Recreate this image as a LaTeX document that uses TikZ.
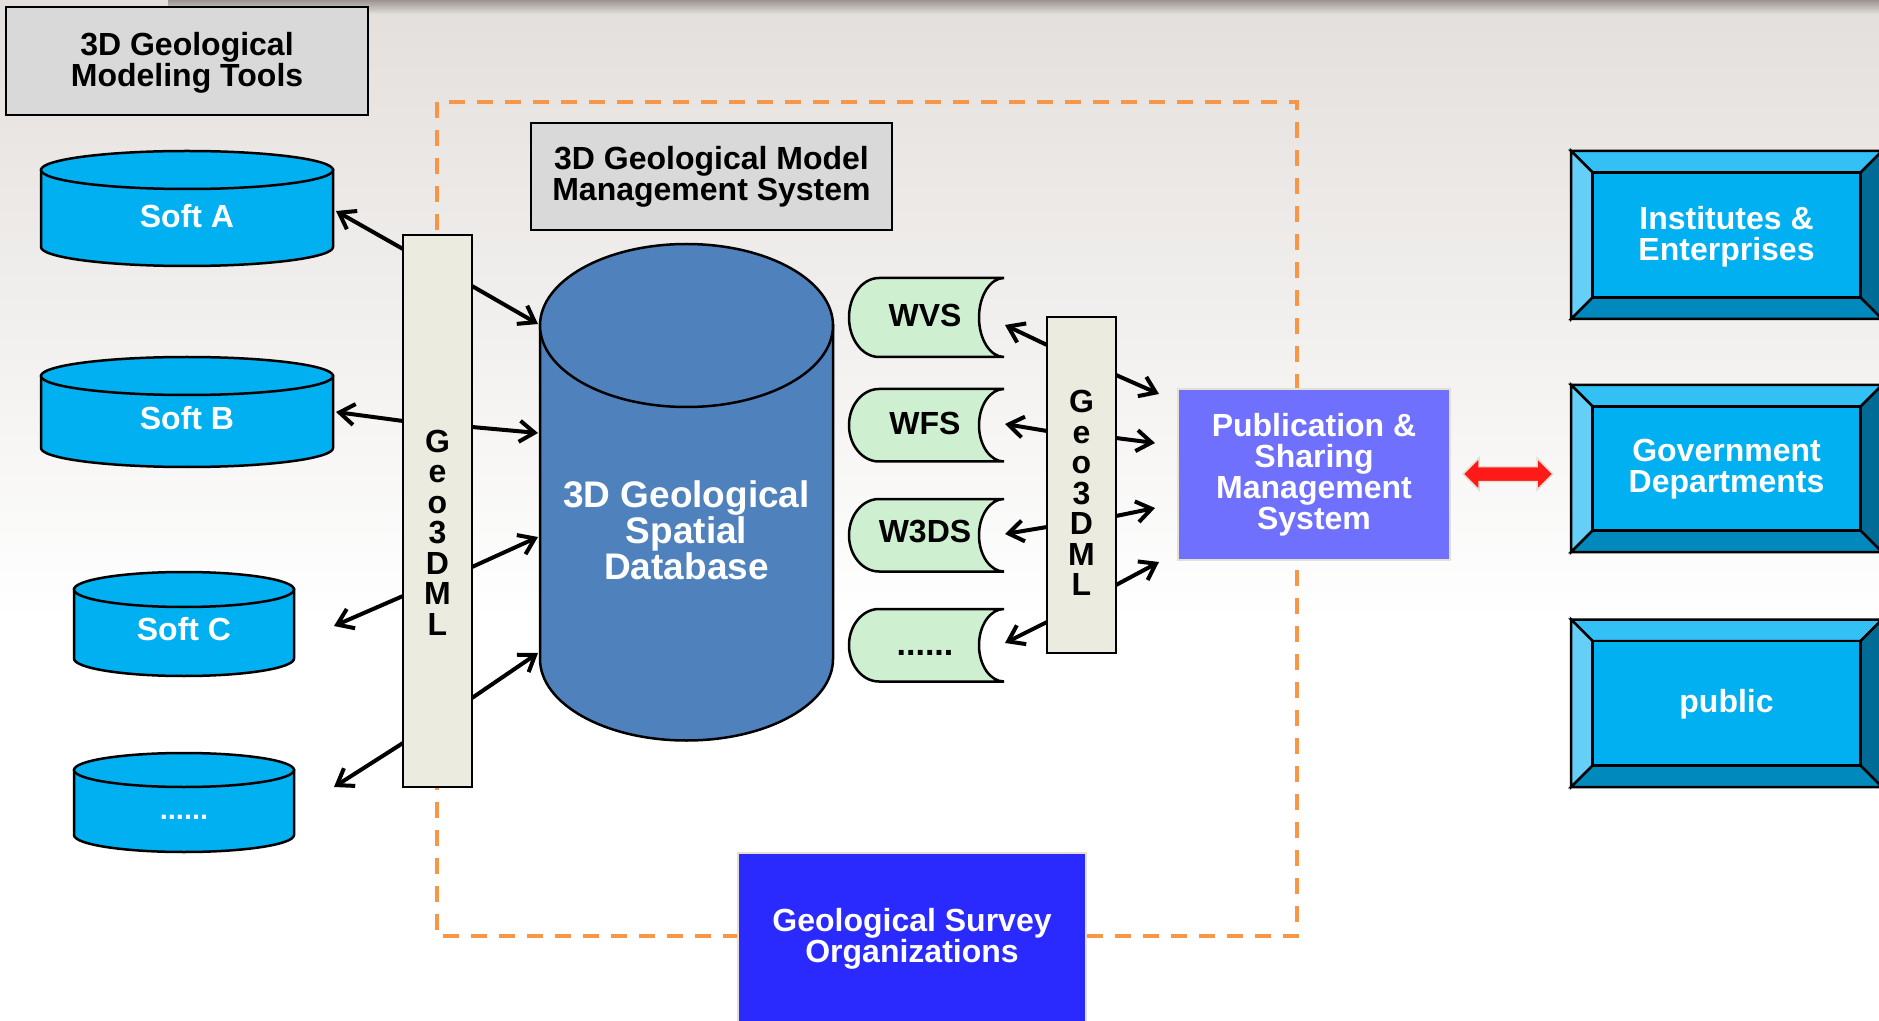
\documentclass[tikz,border=0pt]{standalone}
\usepackage{fontspec}
\setmainfont{Liberation Sans}
\usetikzlibrary{arrows.meta}
\definecolor{bgtop}{HTML}{E3DFDC}
\definecolor{shadowc}{HTML}{9C9490}
\definecolor{boxgray}{HTML}{D9D9D9}
\definecolor{barfill}{HTML}{ECEBE0}
\definecolor{dbblue}{HTML}{4F81BD}
\definecolor{softblue}{HTML}{00B0F0}
\definecolor{tapegreen}{HTML}{CFEFD1}
\definecolor{pubc}{HTML}{7070FF}
\definecolor{surveyc}{HTML}{2A2AFF}
\definecolor{orangec}{HTML}{F79646}
\definecolor{bvtop}{HTML}{33C1F5}
\definecolor{bvleft}{HTML}{66CFF7}
\definecolor{bvbot}{HTML}{0089BC}
\definecolor{bvright}{HTML}{006B94}
\definecolor{bvin}{HTML}{00B0F0}
\definecolor{redc}{HTML}{FF1A1A}
\definecolor{haloc}{HTML}{E6E0D2}
\newcommand\mycyl[6]{%
  \filldraw[fill=#6, draw=black, line width=1.25pt] (#1-#4,#2) -- (#1-#4,#3)
    arc[start angle=180, end angle=0, x radius=#4, y radius=#5] -- (#1+#4,#2) -- cycle;
  \filldraw[fill=#6, draw=black, line width=1.25pt] (#1,#2) ellipse[x radius=#4, y radius=#5];
}
\newcommand\mytape[2]{%
  \filldraw[fill=tapegreen, draw=black, line width=1.25pt] (879,#1) -- (1004,#1)
    arc[start angle=270, end angle=90, x radius=25, y radius={(#2-#1)/2}] -- (879,#2)
    arc[start angle=90, end angle=270, x radius=30, y radius={(#2-#1)/2}] -- cycle;
}
\newcommand\mybevel[2]{%
  \begin{scope}[draw=black, line width=1.25pt, line join=miter]
  \filldraw[fill=bvtop] (1571,#1) -- (1882,#1) -- (1860.5,#1+21.5) -- (1592.5,#1+21.5) -- cycle;
  \filldraw[fill=bvleft] (1571,#1) -- (1592.5,#1+21.5) -- (1592.5,#2-21.5) -- (1571,#2) -- cycle;
  \filldraw[fill=bvbot] (1571,#2) -- (1592.5,#2-21.5) -- (1860.5,#2-21.5) -- (1882,#2) -- cycle;
  \filldraw[fill=bvright] (1882,#1) -- (1882,#2) -- (1860.5,#2-21.5) -- (1860.5,#1+21.5) -- cycle;
  \filldraw[fill=bvin] (1592.5,#1+21.5) rectangle (1860.5,#2-21.5);
  \end{scope}
}
\begin{document}
\begin{tikzpicture}[x=0.5pt,y=-0.5pt,
  txt/.style={font=\fontsize{16}{15.5}\selectfont\bfseries, align=center, inner sep=0pt},
  wtxt/.style={txt, text=white},
  graybox/.style={draw=black, line width=1.25pt, fill=boxgray, inner sep=0pt, txt},
  barbox/.style={draw=black, line width=1.25pt, fill=barfill, inner sep=0pt, minimum width=34.5pt},
  lettertxt/.style={font=\fontsize{16}{15.25}\selectfont\bfseries, align=center, inner sep=0pt},
  arr/.style={line width=2pt, -{Straight Barb[length=7.5pt,width=10.5pt]}},
  dashbox/.style={draw=orangec, line width=2pt, dash pattern=on 8pt off 6pt}]
\useasboundingbox (0,0) rectangle (1879,1021);
% background
\fill[white] (0,0) rectangle (1879,1021);
\shade[top color=bgtop, bottom color=white] (0,0) rectangle (1879,620);
\shade[top color=shadowc, bottom color=bgtop] (168,0) rectangle (1879,14);
% dashed frame
\draw[dashbox] (437,102) rectangle (1297,936);
% gray title boxes
\node[graybox, minimum width=181pt, minimum height=54pt] (tools) at (187,61) {};
\node[txt] (toolstxt) at (187,62.5) {3D Geological\\Modeling Tools};
\node[graybox, minimum width=180.5pt, minimum height=53.5pt] (mgmt) at (711.5,176.5) {3D Geological Model\\Management System};
% soft cylinders
\mycyl{187}{170}{247}{146}{19}{softblue}
\mycyl{187}{376}{448}{146}{19}{softblue}
\mycyl{184}{589.5}{658.5}{110}{17.5}{softblue}
\mycyl{184}{770}{835}{110}{17}{softblue}
\node[wtxt] (softA) at (187,216) {Soft A};
\node[wtxt] (softB) at (187,418) {Soft B};
\node[wtxt] (softC) at (184,629) {Soft C};
\node[wtxt, font=\fontsize{14.5}{15}\selectfont\bfseries, anchor=base] (softD) at (184,819) {......};
% database cylinder
\mycyl{686.5}{325.5}{659}{146.5}{81.5}{dbblue}
\node[wtxt, font=\fontsize{18.5}{18}\selectfont\bfseries] (db) at (686.5,530) {3D Geological\\Spatial\\Database};
% bars
\node[barbox, minimum height=276pt] (lbar) at (437.5,511) {};
\node[lettertxt] (lbartxt) at (437.5,532.5) {G\\e\\o\\3\\D\\M\\L};
\node[barbox, minimum height=168pt] (rbar) at (1081.5,485) {};
\node[lettertxt] (rbartxt) at (1081.5,493) {G\\e\\o\\3\\D\\M\\L};
% tapes
\mytape{278}{357}
\mytape{389}{461.5}
\mytape{499}{571.5}
\mytape{609}{681.5}
\node[txt] (wvs) at (925,315) {WVS};
\node[txt] (wfs) at (925,423) {WFS};
\node[txt] (w3ds) at (925,532) {W3DS};
\node[txt, font=\fontsize{17}{17}\selectfont\bfseries, anchor=base] (wdots) at (925,655) {......};
% arrow end points
\coordinate (la1) at (403,249); \coordinate (sa) at (336,211);
\coordinate (la2) at (403,421); \coordinate (sb) at (336,412);
\coordinate (la3) at (403,596); \coordinate (sc) at (334,626);
\coordinate (la4) at (403,743); \coordinate (sd) at (334,787);
\coordinate (lb1) at (472,286); \coordinate (db1) at (538,324);
\coordinate (lb2) at (472,427); \coordinate (db2) at (538,433);
\coordinate (lb3) at (472,567); \coordinate (db3) at (538,537);
\coordinate (lb4) at (472,698); \coordinate (db4) at (538,653);
\coordinate (ra1) at (1047,345); \coordinate (t1) at (1005,325);
\coordinate (ra2) at (1047,431); \coordinate (t2) at (1005,424);
\coordinate (ra3) at (1047,527); \coordinate (t3) at (1005,534);
\coordinate (ra4) at (1047,622); \coordinate (t4) at (1005,643);
\coordinate (rb1) at (1116,375); \coordinate (p1) at (1159,394);
\coordinate (rb2) at (1116,438); \coordinate (p2) at (1155,443);
\coordinate (rb3) at (1116,516); \coordinate (p3) at (1155,508);
\coordinate (rb4) at (1116,585); \coordinate (p4) at (1159,562);
\foreach \a/\b in {la1/sa,la2/sb,la3/sc,la4/sd,lb1/db1,lb2/db2,lb3/db3,lb4/db4,
                   ra1/t1,ra2/t2,ra3/t3,ra4/t4,rb1/p1,rb2/p2,rb3/p3,rb4/p4}
  \draw[arr] (\a) -- (\b);
% publication box
\node[draw=haloc, line width=0.75pt, fill=pubc, wtxt, minimum width=136pt, minimum height=85.5pt] (pub) at (1314,474.5) {Publication \&\\Sharing\\Management\\System};
% red double arrow
\filldraw[fill=redc, draw=haloc, line width=0.75pt] (1463,474) -- (1479,458) -- (1479,466.5) -- (1537,466.5) -- (1537,458) -- (1553,474) -- (1537,490) -- (1537,481.5) -- (1479,481.5) -- (1479,490) -- cycle;
% bevel boxes
\mybevel{151}{319}
\mybevel{385}{552}
\mybevel{619.5}{787}
\node[wtxt] (inst) at (1726.5,236.5) {Institutes \&\\Enterprises};
\node[wtxt] (gov) at (1726.5,469.5) {Government\\Departments};
\node[wtxt] (public) at (1726.5,704) {public};
% survey box
\node[draw=haloc, line width=0.75pt, fill=surveyc, minimum width=174pt, minimum height=92pt, anchor=north] (survey) at (912,852) {};
\node[wtxt] (surveytxt) at (912,938.5) {Geological Survey\\Organizations};
\end{tikzpicture}
\end{document}
